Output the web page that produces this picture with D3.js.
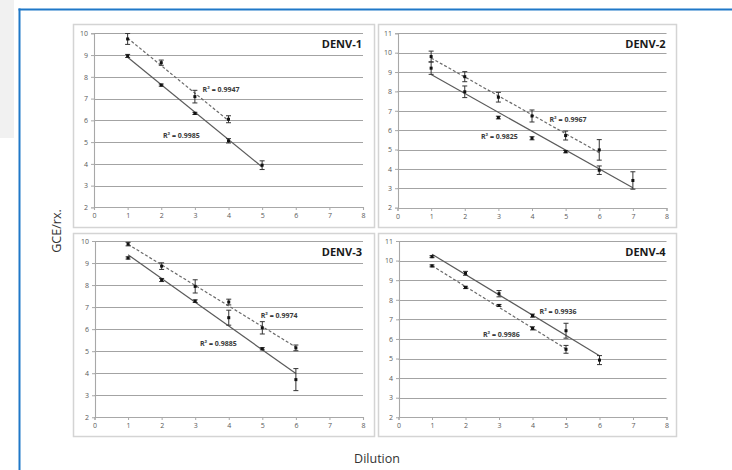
<!DOCTYPE html>
<html>
<head>
<meta charset="utf-8">
<script src="https://cdnjs.cloudflare.com/ajax/libs/d3/7.8.5/d3.min.js"></script>
<style>
  body { margin: 0; background: #fff; }
  svg text { font-family: "Open Sans", sans-serif; }
</style>
</head>
<body>
<div id="main"></div>
<script>
// x values (dilution steps) and axis ticks
var dilutions = [1, 2, 3, 4, 5, 6, 7];
var xTicks = [0, 1, 2, 3, 4, 5, 6, 7, 8];
var serotypes = ['DENV-1', 'DENV-2', 'DENV-3', 'DENV-4'];
var yMins = [2, 2, 2, 2];
var yMaxs = [10, 11, 10, 11];

// dashed series (mean GCE/rx. and error)
var dashed1 = [9.74, 8.65, 7.09, 6.05];
var dashedErr1 = [0.25, 0.12, 0.29, 0.16];
var dashed2 = [9.80, 8.76, 7.70, 6.73, 5.72, 4.98];
var dashedErr2 = [0.28, 0.26, 0.25, 0.31, 0.23, 0.53];
var dashed3 = [9.86, 8.86, 7.94, 7.23, 6.06, 5.15];
var dashedErr3 = [0.08, 0.15, 0.30, 0.13, 0.28, 0.13];
var dashed4 = [9.73, 8.63, 7.71, 6.54, 5.47];
var dashedErr4 = [0.05, 0.06, 0.05, 0.08, 0.20];

// solid series
var solid1 = [8.96, 7.62, 6.32, 5.06, 3.94];
var solidErr1 = [0.07, 0.05, 0.05, 0.10, 0.20];
var solid2 = [9.20, 7.98, 6.65, 5.58, 4.89, 3.93, 3.40];
var solidErr2 = [0.32, 0.30, 0.07, 0.08, 0.06, 0.22, 0.45];
var solid3 = [9.23, 8.23, 7.27, 6.52, 5.11, 3.71];
var solidErr3 = [0.05, 0.07, 0.06, 0.34, 0.05, 0.50];
var solid4 = [10.20, 9.35, 8.31, 7.19, 6.42, 4.92];
var solidErr4 = [0.05, 0.10, 0.16, 0.08, 0.38, 0.23];

// R squared of each trendline
var r2Dashed = ['0.9947', '0.9967', '0.9974', '0.9986'];
var r2Solid = ['0.9985', '0.9825', '0.9885', '0.9936'];

var dashedSeries = [dashed1, dashed2, dashed3, dashed4];
var dashedErrors = [dashedErr1, dashedErr2, dashedErr3, dashedErr4];
var solidSeries = [solid1, solid2, solid3, solid4];
var solidErrors = [solidErr1, solidErr2, solidErr3, solidErr4];

// panel layout (pixels) and R² label anchors (data units)
var panels = [
  {box: [73, 24, 301, 203], x: [94, 363], y: [207.4, 33.3], dLab: [3.23, 7.43], sLab: [2.05, 5.32]},
  {box: [378, 24, 298, 203], x: [397.5, 666.5], y: [207.6, 33.3], dLab: [4.52, 6.56], sLab: [2.48, 5.66]},
  {box: [73, 233, 301, 203], x: [94.5, 363], y: [417.3, 241], dLab: [4.95, 6.60], sLab: [3.14, 5.36]},
  {box: [378, 233, 298, 203], x: [398.5, 666.5], y: [417.3, 241], dLab: [2.52, 6.24], sLab: [4.21, 7.39]}
];

var width = 732, height = 470;

var svg = d3.select('#main').append('svg')
  .attr('width', width)
  .attr('height', height);

/******************************************/
//               page frame               //
/******************************************/
svg.append('rect')
  .attr('x', 0).attr('y', 0)
  .attr('width', 14).attr('height', 138)
  .attr('fill', '#f1f1f1');

svg.append('line')
  .attr('x1', 18.5).attr('x2', width)
  .attr('y1', 9.5).attr('y2', 9.5)
  .attr('stroke', '#1f78c8').attr('stroke-width', 2);

svg.append('line')
  .attr('x1', 19.5).attr('x2', 19.5)
  .attr('y1', 8.5).attr('y2', height)
  .attr('stroke', '#1f78c8').attr('stroke-width', 2);

// least squares fit, drawn from first to last dilution
function fit(xs, ys){
  var n = ys.length;
  var mx = d3.mean(xs), my = d3.mean(ys);
  var sxy = 0, sxx = 0;
  for(var i=0; i<n; i++){
    sxy += (xs[i]-mx)*(ys[i]-my);
    sxx += (xs[i]-mx)*(xs[i]-mx);
  }
  var slope = sxy/sxx;
  return function(x){ return my + slope*(x-mx); };
}

panels.forEach(function(p, k){

  var g = svg.append('g').attr('class', 'panel');

  g.append('rect')
    .attr('x', p.box[0]+0.5).attr('y', p.box[1]+0.5)
    .attr('width', p.box[2]).attr('height', p.box[3])
    .attr('fill', '#fff')
    .attr('stroke', '#d4d4d4')
    .attr('stroke-width', 1.5);

  var x = d3.scaleLinear().domain([0, 8]).range(p.x);
  var y = d3.scaleLinear().domain([yMins[k], yMaxs[k]]).range(p.y);
  var yTicks = d3.range(yMins[k], yMaxs[k]+1);

  // grid
  g.selectAll('.grid').data(yTicks.slice(1)).enter().append('line')
    .attr('class', 'grid')
    .attr('x1', x(0)).attr('x2', x(8))
    .attr('y1', function(d){ return Math.round(y(d))+0.5; })
    .attr('y2', function(d){ return Math.round(y(d))+0.5; })
    .attr('stroke', '#a3a3a3')
    .attr('stroke-width', 1.2);

  // axes
  var yAxis = g.append('g')
    .attr('transform', 'translate(' + Math.round(x(0)) + ',0)')
    .call(d3.axisLeft(y).tickValues(yTicks).tickSize(3).tickPadding(3).tickFormat(d3.format('d')));
  var xAxis = g.append('g')
    .attr('transform', 'translate(0,' + Math.round(y(yMins[k])) + ')')
    .call(d3.axisBottom(x).tickValues(xTicks).tickSize(3).tickPadding(3).tickFormat(d3.format('d')));

  [yAxis, xAxis].forEach(function(a){
    a.select('.domain').attr('stroke', '#a8a8a8').attr('stroke-width', 1.1);
    a.selectAll('.tick line').attr('stroke', '#a8a8a8');
    a.selectAll('.tick text')
      .attr('fill', '#595959')
      .attr('font-size', '7px')
      .attr('font-family', '"Open Sans", sans-serif');
  });
  yAxis.selectAll('.tick').filter(function(d){ return d === yMins[k]; }).select('line').remove();

  // title
  g.append('text')
    .attr('x', x(8) - 1)
    .attr('y', y(yMaxs[k]) + 15)
    .attr('text-anchor', 'end')
    .attr('font-size', '11px')
    .attr('font-weight', 'bold')
    .attr('fill', '#1a1a1a')
    .text(serotypes[k]);

  // series: dashed then solid
  var sets = [
    {vals: dashedSeries[k], errs: dashedErrors[k], dash: '3,2', r2: r2Dashed[k], lab: p.dLab},
    {vals: solidSeries[k], errs: solidErrors[k], dash: null, r2: r2Solid[k], lab: p.sLab}
  ];

  sets.forEach(function(s){
    var xs = dilutions.slice(0, s.vals.length);
    var f = fit(xs, s.vals);
    var x0 = xs[0], x1 = xs[xs.length-1];

    g.append('line')
      .attr('x1', x(x0)).attr('y1', y(f(x0)))
      .attr('x2', x(x1)).attr('y2', y(f(x1)))
      .attr('stroke', s.dash ? '#6a6a6a' : '#5a5a5a')
      .attr('stroke-width', 1.2)
      .attr('stroke-dasharray', s.dash);

    var pts = s.vals.map(function(v, i){ return {x: xs[i], y: v, e: s.errs[i]}; });
    var bars = g.append('g').selectAll('g').data(pts).enter().append('g');

    bars.append('line')
      .attr('x1', function(d){ return x(d.x); }).attr('x2', function(d){ return x(d.x); })
      .attr('y1', function(d){ return y(d.y + d.e); }).attr('y2', function(d){ return y(d.y - d.e); })
      .attr('stroke', '#333').attr('stroke-width', 1);
    bars.append('line')
      .attr('x1', function(d){ return x(d.x)-2.5; }).attr('x2', function(d){ return x(d.x)+2.5; })
      .attr('y1', function(d){ return y(d.y + d.e); }).attr('y2', function(d){ return y(d.y + d.e); })
      .attr('stroke', '#333').attr('stroke-width', 1);
    bars.append('line')
      .attr('x1', function(d){ return x(d.x)-2.5; }).attr('x2', function(d){ return x(d.x)+2.5; })
      .attr('y1', function(d){ return y(d.y - d.e); }).attr('y2', function(d){ return y(d.y - d.e); })
      .attr('stroke', '#333').attr('stroke-width', 1);
    bars.append('rect')
      .attr('x', function(d){ return x(d.x)-1.5; })
      .attr('y', function(d){ return y(d.y)-1.5; })
      .attr('width', 3).attr('height', 3)
      .attr('fill', '#111');

    g.append('text')
      .attr('x', x(s.lab[0]))
      .attr('y', y(s.lab[1]))
      .attr('dy', '0.35em')
      .attr('font-size', '7px')
      .attr('font-weight', 'bold')
      .attr('fill', '#3a3a3a')
      .text('R\u00b2 = ' + s.r2);
  });
});

// shared axis titles
svg.append('text')
  .attr('transform', 'translate(61,231) rotate(-90)')
  .attr('text-anchor', 'middle')
  .attr('font-size', '12.5px')
  .attr('fill', '#333')
  .text('GCE/rx.');

svg.append('text')
  .attr('x', 377)
  .attr('y', 463)
  .attr('text-anchor', 'middle')
  .attr('font-size', '12.5px')
  .attr('fill', '#333')
  .text('Dilution');
</script>
</body>
</html>
